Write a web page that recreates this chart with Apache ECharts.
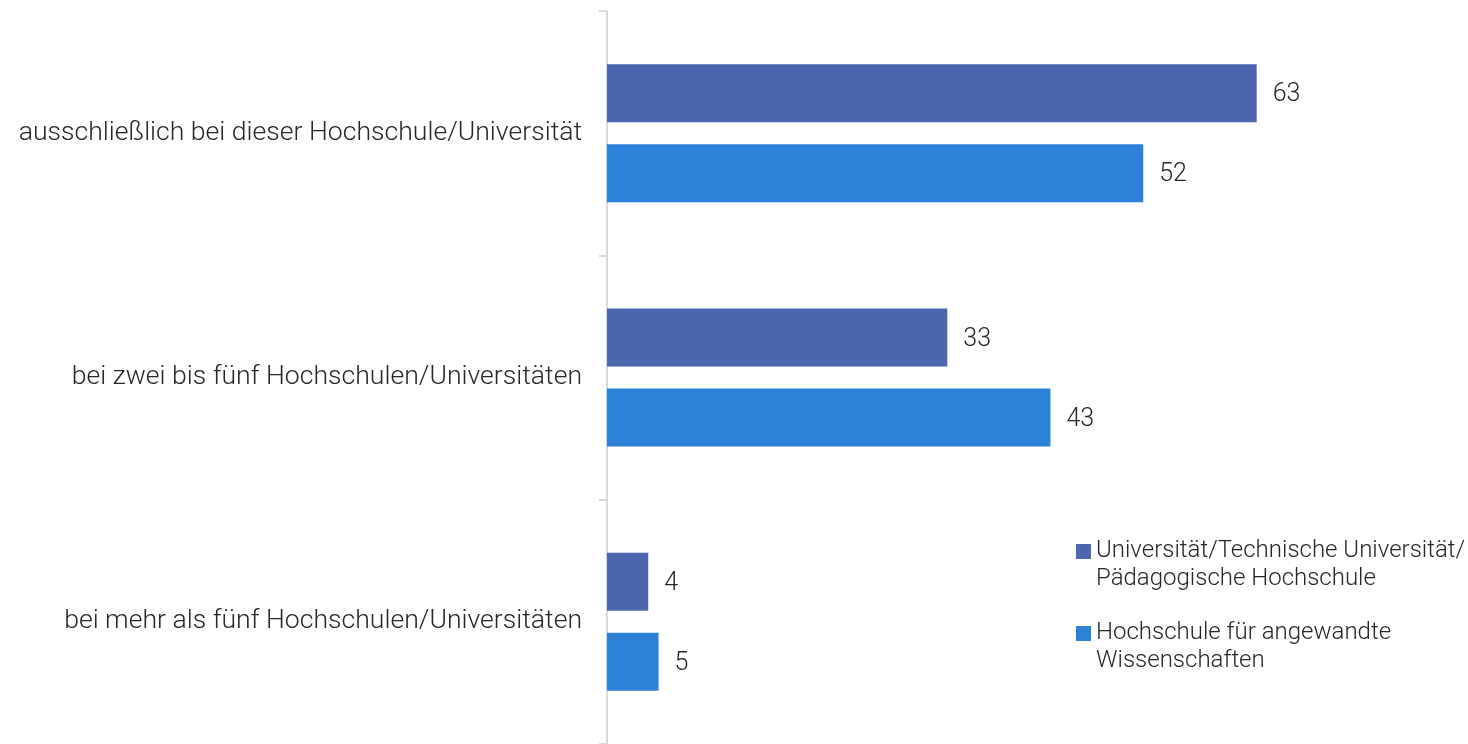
<!DOCTYPE html>
<html>
<head>
<meta charset="utf-8">
<script src="https://cdn.jsdelivr.net/npm/echarts@6/dist/echarts.min.js"></script>
<style>
  html, body { margin: 0; padding: 0; background: #fff; }
  #chart { width: 1468px; height: 744px; }
</style>
</head>
<body>
<div id="chart"></div>
<script>
// Anteil in Prozent je Hochschultyp
const categories = [
  'ausschließlich bei dieser Hochschule/Universität',
  'bei zwei bis fünf Hochschulen/Universitäten',
  'bei mehr als fünf Hochschulen/Universitäten'
];
const seriesNames = [
  'Universität/Technische Universität/\nPädagogische Hochschule',
  'Hochschule für angewandte\nWissenschaften'
];
const uniValues = [63, 33, 4];
const hawValues = [52, 43, 5];

const colors = ['#4A67AF', '#2B80D8'];
const textColor = '#262626';
const fontFamily = 'Roboto, "Noto Sans", sans-serif';

const chart = echarts.init(document.getElementById('chart'), null, { renderer: 'canvas' });

const labelStyle = {
  show: true,
  position: 'right',
  distance: 16,
  offset: [0, 2],
  color: textColor,
  fontSize: 25,
  fontWeight: 300,
  fontFamily: fontFamily
};

chart.setOption({
  animation: false,
  grid: { left: 607, top: 11, height: 735, width: 825, containLabel: false },
  legend: {
    orient: 'vertical',
    left: 1076,
    top: 537,
    padding: 0,
    itemWidth: 15,
    itemHeight: 56,
    itemGap: 26,
    // square aligned with the first text line
    icon: 'path://M0,0L0,0.01M0,7L15,7L15,22L0,22Z M0,56L0,55.99',
    textStyle: {
      color: textColor,
      fontSize: 24,
      fontWeight: 300,
      lineHeight: 28,
      fontFamily: fontFamily
    },
    data: seriesNames
  },
  xAxis: {
    type: 'value',
    min: 0,
    max: 80,
    show: false
  },
  yAxis: {
    type: 'category',
    inverse: true,
    data: categories,
    axisLine: { show: true, lineStyle: { color: '#D9D9D9', width: 2 } },
    axisTick: { show: true, length: 8, lineStyle: { color: '#D9D9D9', width: 2 } },
    axisLabel: {
      margin: 25,
      color: textColor,
      fontSize: 26.6,
      fontWeight: 300,
      fontFamily: fontFamily
    },
    splitLine: { show: false }
  },
  series: [
    {
      name: seriesNames[0],
      type: 'bar',
      data: uniValues,
      barWidth: 58,
      barGap: '38%',
      itemStyle: { color: colors[0] },
      label: labelStyle
    },
    {
      name: seriesNames[1],
      type: 'bar',
      data: hawValues,
      barWidth: 58,
      barGap: '38%',
      itemStyle: { color: colors[1] },
      label: labelStyle
    }
  ]
});
</script>
</body>
</html>
